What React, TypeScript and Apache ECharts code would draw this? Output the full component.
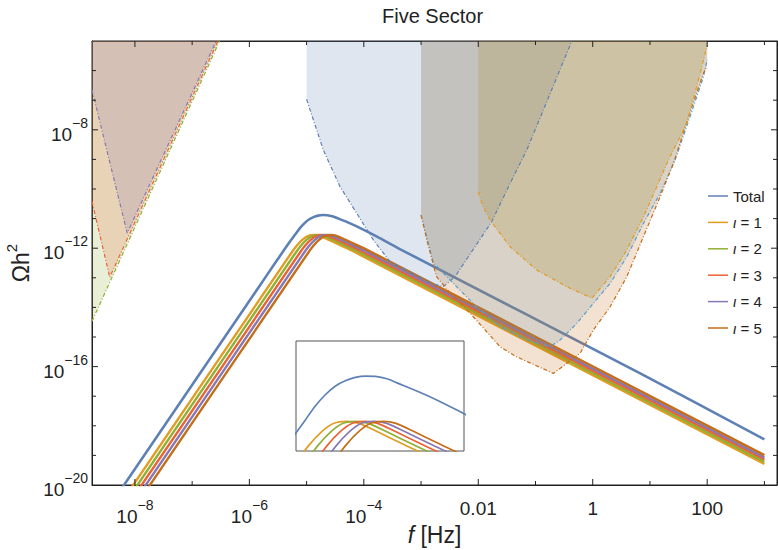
import React, { useEffect, useRef } from 'react';
import * as echarts from 'echarts';

// All values are log10 of f [Hz] and log10 of Ωh².
const totalLogF = [-8.296, -5.87, -5.5, -5.3, -5.2, -5.12, -5.04, -4.96, -4.88, -4.8, -4.72, -4.64, -4.55, -4.47, -4.24, -4.0, -3.77, -3.37, 0.83, 3.0];
const totalLogOmega = [-20.3, -13.41, -12.36, -11.8, -11.54, -11.33, -11.16, -11.03, -10.95, -10.9, -10.88, -10.885, -10.92, -10.98, -11.16, -11.38, -11.61, -12.03, -16.23, -18.46];

const sector1LogF = [-8.135, -5.27, -5.17, -5.07, -4.97, -4.87, -4.77, -4.62, -4.42, -4.17, 3.0];
const sector1LogOmega = [-20.3, -12.17, -11.91, -11.71, -11.58, -11.55, -11.58, -11.71, -11.89, -12.12, -19.29];
const sector2LogF = [-8.062, -5.197, -5.097, -4.997, -4.897, -4.797, -4.697, -4.547, -4.347, -4.097, 3.0];
const sector2LogOmega = [-20.3, -12.17, -11.91, -11.71, -11.58, -11.55, -11.58, -11.71, -11.89, -12.12, -19.22];
const sector3LogF = [-7.989, -5.124, -5.024, -4.924, -4.824, -4.724, -4.624, -4.474, -4.274, -4.024, 3.0];
const sector3LogOmega = [-20.3, -12.17, -11.91, -11.71, -11.58, -11.55, -11.58, -11.71, -11.89, -12.12, -19.14];
const sector4LogF = [-7.916, -5.051, -4.951, -4.851, -4.751, -4.651, -4.551, -4.401, -4.201, -3.951, 3.0];
const sector4LogOmega = [-20.3, -12.17, -11.91, -11.71, -11.58, -11.55, -11.58, -11.71, -11.89, -12.12, -19.07];
const sector5LogF = [-7.843, -4.978, -4.878, -4.778, -4.678, -4.578, -4.478, -4.328, -4.128, -3.878, 3.0];
const sector5LogOmega = [-20.3, -12.17, -11.91, -11.71, -11.58, -11.55, -11.58, -11.71, -11.89, -12.12, -18.99];

// detector sensitivity curves
const ptaGreenLogF = [-8.75, -6.52];
const ptaGreenLogOmega = [-14.47, -5.0];
const ptaRedLogF = [-8.75, -8.44, -6.55];
const ptaRedLogOmega = [-10.42, -12.98, -5.0];
const ptaPurpleLogF = [-8.75, -8.135, -6.58];
const ptaPurpleLogOmega = [-6.65, -11.49, -5.0];

const lisaLogF = [-5.0, -4.708, -4.416, -4.124, -3.834, -3.542, -2.84, -2.61, -2.406, -1.764, -1.444, -1.152, -0.365];
const lisaLogOmega = [-6.97, -8.68, -9.92, -10.82, -11.72, -12.46, -13.18, -13.3, -12.96, -11.1, -9.81, -8.68, -5.0];

const tjLogF = [-3.0, -2.785, -2.435, -2.03, -1.62, -1.152, -0.745, -0.57, -0.278, 0.012, 0.304, 0.596, 0.886, 1.178, 1.44, 1.76, 1.935, 2.0];
const tjLogOmega = [-10.88, -12.49, -13.19, -13.98, -14.65, -15.1, -15.33, -15.1, -14.54, -13.86, -13.19, -12.29, -11.16, -10.15, -9.02, -7.22, -6.21, -5.64];

const tqLogF = [-3.0, -2.9, -2.73, -2.49, -2.14, -1.62, -1.33, -0.687, -0.22, 0.012, 0.304, 0.596, 0.886, 1.178, 1.411, 1.733, 1.935, 2.0];
const tqLogOmega = [-10.88, -11.72, -12.96, -13.52, -14.2, -15.33, -15.67, -16.23, -15.55, -14.76, -13.98, -12.96, -11.61, -10.26, -9.13, -7.22, -6.09, -5.84];

const tanLogF = [-2.0, -1.93, -1.794, -1.444, -0.977, -0.453, -0.016, 0.304, 0.596, 0.886, 1.12, 1.323, 1.645, 1.878, 2.0];
const tanLogOmega = [-10.09, -10.54, -11.05, -11.95, -12.74, -13.3, -13.69, -12.96, -12.06, -10.94, -9.92, -9.02, -7.78, -6.09, -5.14];

// axis ticks (decades) and the labelled ones
const xTickLogs = [-8, -7, -6, -5, -4, -3, -2, -1, 0, 1, 2, 3];
const xLabelLogs = [-8, -6, -4, -2, 0, 2];
const yTickLogs = [-19, -18, -17, -16, -15, -14, -13, -12, -11, -10, -9, -8, -7, -6];
const yLabelLogs = [-20, -16, -12, -8];

const legendNames = ['Total', 'ι = 1', 'ι = 2', 'ι = 3', 'ι = 4', 'ι = 5'];

const X_MIN = -8.75;
const X_MAX = 3.22;
const Y_MIN = -20;
const Y_MAX = -5;

const FONT = '"Liberation Sans", Arial, Helvetica, sans-serif';
const MINUS = '\u2212';
const INK = '#222';
const FRAME = '#222';

const pairs = (xs: number[], ys: number[]) => xs.map((x, i) => [x, ys[i]]);

const signals = [
  { name: legendNames[0], color: '#5E81B5', xs: totalLogF, ys: totalLogOmega, width: 2.6 },
  { name: legendNames[1], color: '#E19C24', xs: sector1LogF, ys: sector1LogOmega, width: 2.4 },
  { name: legendNames[2], color: '#8FB032', xs: sector2LogF, ys: sector2LogOmega, width: 2.4 },
  { name: legendNames[3], color: '#EB6235', xs: sector3LogF, ys: sector3LogOmega, width: 2.4 },
  { name: legendNames[4], color: '#8778B3', xs: sector4LogF, ys: sector4LogOmega, width: 2.4 },
  { name: legendNames[5], color: '#C56E1A', xs: sector5LogF, ys: sector5LogOmega, width: 2.4 },
];

const detectors = [
  { name: 'PTA green', color: '#8FB032', fill: '#8FB032', xs: ptaGreenLogF, ys: ptaGreenLogOmega },
  { name: 'PTA red', color: '#EB6235', fill: '#EB6235', xs: ptaRedLogF, ys: ptaRedLogOmega },
  { name: 'PTA purple', color: '#8778B3', fill: '#8778B3', xs: ptaPurpleLogF, ys: ptaPurpleLogOmega },
  { name: 'LISA', color: '#5E81B5', fill: '#5E81B5', xs: lisaLogF, ys: lisaLogOmega },
  { name: 'Taiji', color: '#5D9EC7', fill: '#5D9EC7', xs: tjLogF, ys: tjLogOmega },
  { name: 'TianQin', color: '#C56E1A', fill: '#C56E1A', xs: tqLogF, ys: tqLogOmega },
  { name: 'Tan', color: '#E19C24', fill: '#A78416', xs: tanLogF, ys: tanLogOmega },
];

const labelRich = {
  b: { fontSize: 19, fontFamily: FONT, color: INK, lineHeight: 28, verticalAlign: 'bottom' },
  s: { fontSize: 14, fontFamily: FONT, color: INK, lineHeight: 14, verticalAlign: 'top' },
  p: { fontSize: 19, fontFamily: FONT, color: INK, lineHeight: 20 },
};

const isTick = (v: number, list: number[]) => list.some((t) => Math.abs(t - v) < 1e-6);

const xFmt = (v: number) => {
  if (!isTick(v, xLabelLogs)) return '';
  const r = Math.round(v);
  if (r === -2) return '{p|0.01}';
  if (r >= 0) return `{p|${Math.pow(10, r)}}`;
  return `{b|10}{s|${MINUS}${-r}}`;
};

const yFmt = (v: number) => {
  if (!isTick(v, yLabelLogs)) return '';
  const r = Math.round(v);
  return `{b|10}{s|${MINUS}${-r}}`;
};

const frameLine = () => ({ show: true, onZero: false, lineStyle: { color: FRAME, width: 1 } });

export default function App() {
  const ref = useRef<HTMLDivElement>(null);
  useEffect(() => {
    if (!ref.current) return;
    const chart = echarts.init(ref.current, null, { renderer: 'svg' });

    const series: any[] = [];
    signals.forEach((s) => {
      series.push({
        name: s.name,
        type: 'line',
        xAxisIndex: 0,
        yAxisIndex: 0,
        data: pairs(s.xs, s.ys),
        symbol: 'none',
        smooth: 0.3,
        color: s.color,
        itemStyle: { color: s.color },
        lineStyle: { color: s.color, width: s.width },
        silent: true,
        z: 2,
      });
    });
    detectors.forEach((d) => {
      series.push({
        name: d.name,
        type: 'line',
        xAxisIndex: 0,
        yAxisIndex: 0,
        data: pairs(d.xs, d.ys),
        symbol: 'none',
        color: d.color,
        lineStyle: { color: d.color, width: 1.2, type: [4, 2, 1, 2] },
        areaStyle: { origin: 'end', color: d.fill, opacity: 0.2 },
        silent: true,
        z: 3,
      });
    });
    signals.forEach((s) => {
      series.push({
        name: s.name + ' (inset)',
        type: 'line',
        xAxisIndex: 2,
        yAxisIndex: 2,
        data: pairs(s.xs, s.ys),
        symbol: 'none',
        smooth: 0.3,
        color: s.color,
        lineStyle: { color: s.color, width: 1.7 },
        silent: true,
        z: 4,
      });
    });

    // frame ticks on all four sides (inward), placed through the axes' own scales
    series.push({
      name: 'x ticks',
      type: 'custom',
      xAxisIndex: 0,
      yAxisIndex: 0,
      clip: false,
      silent: true,
      z: 5,
      data: xTickLogs.map((v) => [v, Y_MIN]),
      renderItem: (params: any, api: any) => {
        const v = api.value(0);
        const len = isTick(v, xLabelLogs) ? 6 : 4;
        const b = api.coord([v, Y_MIN]);
        const t = api.coord([v, Y_MAX]);
        const st = { stroke: FRAME, lineWidth: 1 };
        return {
          type: 'group',
          children: [
            { type: 'line', shape: { x1: b[0], y1: b[1], x2: b[0], y2: b[1] - len }, style: st },
            { type: 'line', shape: { x1: t[0], y1: t[1], x2: t[0], y2: t[1] + len }, style: st },
          ],
        };
      },
    });
    series.push({
      name: 'y ticks',
      type: 'custom',
      xAxisIndex: 0,
      yAxisIndex: 0,
      clip: false,
      silent: true,
      z: 5,
      data: yTickLogs.map((v) => [X_MIN, v]),
      renderItem: (params: any, api: any) => {
        const v = api.value(1);
        const len = isTick(v, yLabelLogs) ? 6 : 4;
        const l = api.coord([X_MIN, v]);
        const r = api.coord([X_MAX, v]);
        const st = { stroke: FRAME, lineWidth: 1 };
        return {
          type: 'group',
          children: [
            { type: 'line', shape: { x1: l[0], y1: l[1], x2: l[0] + len, y2: l[1] }, style: st },
            { type: 'line', shape: { x1: r[0], y1: r[1], x2: r[0] - len, y2: r[1] }, style: st },
          ],
        };
      },
    });

    const option: any = {
      animation: false,
      backgroundColor: '#fff',
      title: {
        text: 'Five Sector',
        left: 382,
        top: 6,
        padding: 0,
        textStyle: { fontSize: 20, fontWeight: 'normal', fontFamily: FONT, color: INK },
      },
      graphic: [
        {
          type: 'text',
          x: 434.5,
          y: 535,
          silent: true,
          style: {
            text: '{i|f} [Hz]',
            fontSize: 23,
            fontFamily: FONT,
            fill: INK,
            align: 'center',
            verticalAlign: 'middle',
            rich: {
              i: { fontSize: 23, fontFamily: FONT, fontStyle: 'italic', fill: INK, color: INK },
            },
          },
        },
      ],
      legend: {
        data: legendNames,
        orient: 'vertical',
        left: 703,
        top: 183,
        itemWidth: 20,
        itemHeight: 1.5,
        itemGap: 10.4,
        icon: 'rect',
        selectedMode: false,
        formatter: (name: string) =>
          name === 'Total' ? '{n|Total}' : `{i|ι}{n| = ${name.split('= ')[1]}}`,
        textStyle: {
          fontSize: 15,
          fontFamily: FONT,
          color: INK,
          lineHeight: 16,
          rich: {
            i: { fontSize: 15, fontFamily: FONT, fontStyle: 'italic', color: INK, lineHeight: 16 },
            n: { fontSize: 15, fontFamily: FONT, color: INK, lineHeight: 16 },
          },
        },
      },
      grid: [
        {
          left: 92, top: 41, width: 685, height: 444,
          containLabel: false, outerBoundsMode: 'none',
          show: true, borderColor: FRAME, borderWidth: 1, backgroundColor: 'transparent',
        },
        {
          left: 296, top: 341, width: 168, height: 110,
          containLabel: false, outerBoundsMode: 'none',
          show: true, borderColor: '#555', borderWidth: 1, backgroundColor: '#fff',
        },
      ],
      xAxis: [
        {
          type: 'value',
          gridIndex: 0,
          position: 'bottom',
          min: X_MIN,
          max: X_MAX,
          splitNumber: 12,
          axisLine: frameLine(),
          axisTick: { show: false },
          splitLine: { show: false },
          axisLabel: { formatter: xFmt, margin: 13, rich: labelRich, color: INK },
        },
        {
          type: 'value',
          gridIndex: 0,
          position: 'top',
          min: X_MIN,
          max: X_MAX,
          splitNumber: 12,
          axisLine: frameLine(),
          axisTick: { show: false },
          splitLine: { show: false },
          axisLabel: { show: false },
        },
        { type: 'value', gridIndex: 1, min: -5.27, max: -3.94, show: false, splitLine: { show: false } },
      ],
      yAxis: [
        {
          type: 'value',
          gridIndex: 0,
          position: 'left',
          min: Y_MIN,
          max: Y_MAX,
          splitNumber: 15,
          axisLine: frameLine(),
          axisTick: { show: false },
          splitLine: { show: false },
          axisLabel: { formatter: yFmt, margin: 4, rich: labelRich, color: INK },
          name: '{a|Ωh}{s|2}',
          nameLocation: 'middle',
          nameRotate: 90,
          nameGap: 51,
          nameTextStyle: {
            rich: {
              a: { fontSize: 23, fontFamily: FONT, color: INK, lineHeight: 28, verticalAlign: 'bottom' },
              s: { fontSize: 15, fontFamily: FONT, color: INK, lineHeight: 15, verticalAlign: 'top' },
            },
          },
        },
        {
          type: 'value',
          gridIndex: 0,
          position: 'right',
          min: Y_MIN,
          max: Y_MAX,
          splitNumber: 15,
          axisLine: frameLine(),
          axisTick: { show: false },
          splitLine: { show: false },
          axisLabel: { show: false },
        },
        { type: 'value', gridIndex: 1, min: -11.99, max: -10.36, show: false, splitLine: { show: false } },
      ],
      series,
    };

    chart.setOption(option);
    return () => chart.dispose();
  }, []);

  return (
    <div
      ref={ref}
      style={{ position: 'fixed', left: 0, top: 0, width: 778, height: 550, background: '#fff' }}
    />
  );
}
